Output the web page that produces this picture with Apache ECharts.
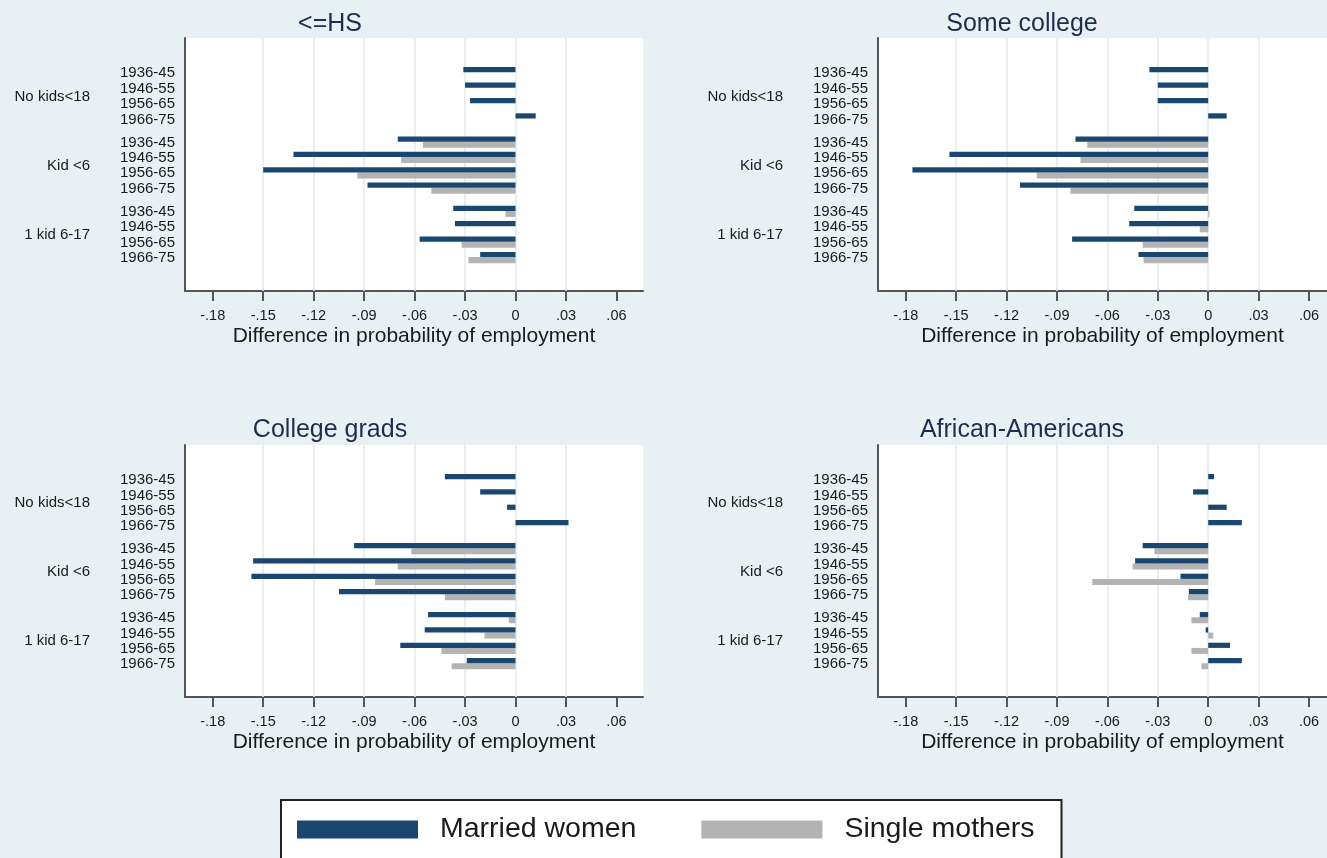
<!DOCTYPE html>
<html>
<head>
<meta charset="utf-8">
<script src="https://cdn.jsdelivr.net/npm/echarts@6/dist/echarts.min.js"></script>
<style>
html,body{margin:0;padding:0;background:#e8f0f3;}
#chart{width:1327px;height:858px;}
</style>
</head>
<body>
<div id="chart"></div>
<script>
// ---- Data ----
const panelTitles = ['<=HS', 'Some college', 'College grads', 'African-Americans'];
const groups = ['No kids<18', 'Kid <6', '1 kid 6-17'];
const cohorts = ['1936-45', '1946-55', '1956-65', '1966-75'];
const xTicks = [-0.18, -0.15, -0.12, -0.09, -0.06, -0.03, 0, 0.03, 0.06];
const gridTicks = [-0.15, -0.12, -0.09, -0.06, -0.03, 0, 0.03];
const seriesNames = ['Married women', 'Single mothers'];

// rows: No kids (4 cohorts), Kid <6 (4), 1 kid 6-17 (4)
const hsMarried      = [-0.031, -0.030, -0.027, 0.012,  -0.070, -0.132, -0.150, -0.088,  -0.037, -0.036, -0.057, -0.021];
const hsSingle       = [null, null, null, null,          -0.055, -0.068, -0.094, -0.050,  -0.006, null, -0.032, -0.028];
const someColMarried = [-0.035, -0.030, -0.030, 0.011,  -0.079, -0.154, -0.176, -0.112,  -0.044, -0.047, -0.081, -0.0415];
const someColSingle  = [null, null, null, null,          -0.072, -0.076, -0.102, -0.082,  0.0008, -0.005, -0.039, -0.0385];
const colGradMarried = [-0.042, -0.021, -0.005, 0.0315, -0.096, -0.156, -0.157, -0.105,  -0.052, -0.054, -0.0685, -0.029];
const colGradSingle  = [null, null, null, null,          -0.062, -0.070, -0.0835, -0.042, -0.004, -0.0185, -0.044, -0.038];
const afAmMarried    = [0.0035, -0.009, 0.011, 0.020,   -0.039, -0.0435, -0.0165, -0.0115, -0.005, -0.0015, 0.013, 0.020];
const afAmSingle     = [null, null, null, null,          -0.032, -0.045, -0.069, -0.012,  -0.010, 0.003, -0.010, -0.004];

const marriedData = [hsMarried, someColMarried, colGradMarried, afAmMarried];
const singleData = [hsSingle, someColSingle, colGradSingle, afAmSingle];

// ---- Layout / style ----
const MARRIED_COLOR = '#1a476f';
const SINGLE_COLOR = '#b3b3b3';
const BG = '#e8f0f3';
const AXIS_COLOR = '#555555';
const TEXT_COLOR = '#1a1a1a';
const TITLE_COLOR = '#1e2d4f';

const grids = [
  {left: 185, top: 38, width: 458, height: 253},
  {left: 878, top: 38, width: 449, height: 253},
  {left: 185, top: 445, width: 458, height: 252},
  {left: 878, top: 445, width: 449, height: 252}
];
const xMax = [0.0758, 0.0707, 0.0758, 0.0707];
const titlePos = [[325, 7], [1017, 7], [325, 413], [1017, 413]];

// row positions (in row units) along the hidden y scale
const rowPos = [];
for (let g = 0; g < groups.length; g++) {
  for (let i = 0; i < cohorts.length; i++) rowPos.push(g * 4.5 + i);
}
const groupPos = groups.map((_, g) => g * 4.5 + 1.5);
const labelMap = {};
rowPos.forEach((p, k) => { labelMap[Math.round(p * 2)] = cohorts[k % 4]; });
const groupMap = {};
groupPos.forEach((p, g) => { groupMap[Math.round(p * 2)] = groups[g]; });

function fmtTick(v) {
  if (Math.abs(v) < 1e-9) return '0';
  const s = Math.round(Math.abs(v) * 100).toString().padStart(2, '0');
  return (v < 0 ? '-.' : '.') + s;
}

function makeRender(top, bottom) {
  return function (params, api) {
    const v = api.value(0), p = api.value(1);
    const a = api.coord([0, p + top]);
    const b = api.coord([v, p + bottom]);
    const x = Math.min(a[0], b[0]);
    const w = Math.abs(b[0] - a[0]);
    const y = Math.min(a[1], b[1]);
    const h = Math.abs(b[1] - a[1]);
    return {type: 'rect', shape: {x: x, y: y, width: w, height: h},
            style: {fill: api.visual('color')}};
  };
}

const option = {
  backgroundColor: BG,
  animation: false,
  textStyle: {fontFamily: 'Liberation Sans, Arial, sans-serif'},
  title: panelTitles.map((t, i) => ({
    text: t, left: titlePos[i][0], top: titlePos[i][1], textAlign: 'center',
    textStyle: {fontSize: 25, fontWeight: 'normal', color: TITLE_COLOR, fontFamily: 'Liberation Sans, Arial, sans-serif'}
  })),
  grid: grids.map(g => Object.assign({show: true, backgroundColor: '#ffffff', borderWidth: 0, containLabel: false}, g)),
  xAxis: grids.map((g, i) => ({
    type: 'value', gridIndex: i, min: -0.1965, max: xMax[i],
    name: 'Difference in probability of employment', nameLocation: 'middle', nameGap: 35,
    nameTextStyle: {fontSize: 21, color: TEXT_COLOR},
    axisLine: {show: true, onZero: false, lineStyle: {color: AXIS_COLOR, width: 2}},
    axisTick: {show: true, length: 10, inside: false, customValues: xTicks, lineStyle: {color: AXIS_COLOR, width: 2}},
    axisLabel: {show: true, customValues: xTicks, margin: 17, fontSize: 14.5, color: TEXT_COLOR, formatter: fmtTick},
    splitLine: {show: false}
  })),
  yAxis: [].concat(...grids.map((g, i) => ([
    {
      type: 'value', gridIndex: i, min: -2.29, max: 14.14, inverse: true, position: 'left',
      axisLine: {show: true, onZero: false, lineStyle: {color: AXIS_COLOR, width: 2}},
      axisTick: {show: false},
      splitLine: {show: false},
      axisLabel: {show: true, customValues: rowPos, margin: 10, fontSize: 15, color: TEXT_COLOR,
                  padding: [3, 0, 0, 0],
                  formatter: v => labelMap[Math.round(v * 2)] || ''}
    },
    {
      type: 'value', gridIndex: i, min: -2.29, max: 14.14, inverse: true, position: 'left',
      axisLine: {show: false, onZero: false}, axisTick: {show: false}, splitLine: {show: false},
      axisLabel: {show: true, customValues: groupPos, margin: 95, fontSize: 15, color: TEXT_COLOR,
                  padding: [3, 0, 0, 0],
                  formatter: v => groupMap[Math.round(v * 2)] || ''}
    }
  ]))),
  legend: {
    left: 281, top: 800, orient: 'horizontal',
    padding: [15, 27, 40, 16],
    backgroundColor: '#ffffff', borderColor: '#222222', borderWidth: 2, borderRadius: 0,
    itemWidth: 121, itemHeight: 18, itemGap: 65,
    textStyle: {fontSize: 28.5, color: TEXT_COLOR, padding: [3, 0, 0, 17]},
    data: [
      {name: seriesNames[0], icon: 'rect', itemStyle: {color: MARRIED_COLOR}},
      {name: seriesNames[1], icon: 'rect', itemStyle: {color: SINGLE_COLOR}}
    ]
  },
  series: []
};

for (let i = 0; i < 4; i++) {
  const sData = singleData[i].map((v, k) => v === null ? null : [v, rowPos[k]]).filter(d => d);
  const mData = marriedData[i].map((v, k) => v === null ? null : [v, rowPos[k]]).filter(d => d);
  option.series.push({
    type: 'custom', name: seriesNames[1], xAxisIndex: i, yAxisIndex: 2 * i,
    color: SINGLE_COLOR, itemStyle: {color: SINGLE_COLOR},
    renderItem: makeRender(-0.06, 0.33), encode: {x: 0, y: 1}, data: sData, z: 3,
    markLine: {
      silent: true, symbol: ['none', 'none'], label: {show: false}, z: 1,
      lineStyle: {color: '#e1eaee', width: 1.5, type: 'solid'},
      emphasis: {disabled: true},
      data: gridTicks.map(t => ({xAxis: t}))
    }
  });
  option.series.push({
    type: 'custom', name: seriesNames[0], xAxisIndex: i, yAxisIndex: 2 * i,
    color: MARRIED_COLOR, itemStyle: {color: MARRIED_COLOR},
    renderItem: makeRender(-0.4, -0.06), encode: {x: 0, y: 1}, data: mData, z: 4
  });
}

const chart = echarts.init(document.getElementById('chart'), null, {renderer: 'canvas'});
chart.setOption(option);
</script>
</body>
</html>
